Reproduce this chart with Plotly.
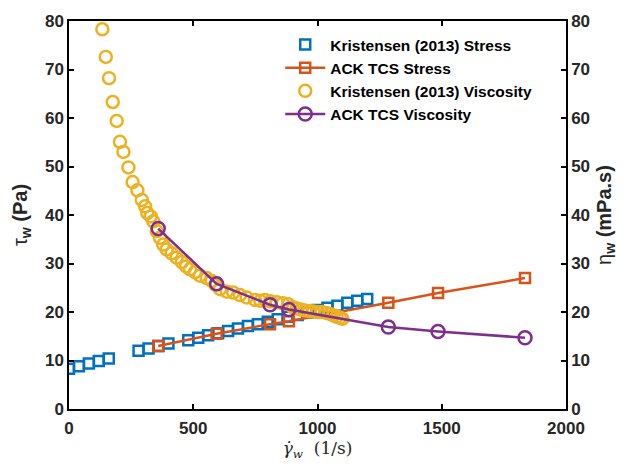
import plotly.graph_objects as go

# Wall shear stress, Kristensen (2013)
kr_stress_x = [0, 40, 80, 120, 160, 280, 320, 360, 400, 480, 520, 560, 600, 640, 680,
               720, 760, 800, 840, 880, 920, 960, 1000, 1040, 1080, 1120, 1160, 1200]
kr_stress_y = [8.3, 8.8, 9.4, 9.9, 10.4, 12.0, 12.5, 13.0, 13.5, 14.2, 14.7, 15.2, 15.6,
               16.1, 16.6, 17.1, 17.5, 18.0, 18.5, 19.0, 19.4, 19.9, 20.4, 20.9, 21.3,
               21.9, 22.3, 22.7]

# ACK TCS model results
ack_x = [359, 594, 809, 885, 1285, 1485, 1835]
ack_stress = [13.0, 15.5, 17.5, 18.1, 21.9, 23.9, 27.0]
ack_visc = [37.2, 25.8, 21.5, 20.5, 16.9, 16.0, 14.7]

# Wall viscosity, Kristensen (2013)
kr_visc_x = [134, 148, 161, 176, 192, 205, 219, 239, 256, 275, 293, 306, 315, 329, 339,
             353, 366, 379, 393, 413, 433, 454, 471, 487, 507, 527, 554, 574, 590, 608,
             635, 661, 688, 715, 748, 770, 789, 810, 836, 860, 882, 900, 916, 933, 950,
             967, 983, 1000, 1017, 1035, 1050, 1065, 1077, 1090, 1100]
kr_visc_y = [78.3, 72.6, 68.2, 63.3, 59.4, 55.1, 53.0, 49.8, 46.8, 45.1, 43.1, 41.8, 40.4,
             39.7, 38.7, 36.7, 35.3, 33.9, 32.9, 32.1, 31.2, 30.3, 29.4, 28.8, 28.2, 27.5,
             27.0, 26.4, 25.6, 24.7, 24.2, 24.0, 23.5, 23.0, 22.5, 22.3, 22.5, 22.2, 22.0,
             21.8, 21.6, 21.0, 20.7, 20.5, 20.3, 20.2, 20.1, 20.0, 20.0, 19.8, 19.6, 19.3,
             19.0, 18.8, 18.6]

BLUE = "#0072BD"
ORANGE = "#D95319"
YELLOW = "#EDB120"
PURPLE = "#7E2F8E"
FONT = "Liberation Sans, Arial, sans-serif"
INK = "#262626"

fig = go.Figure()
fig.add_trace(go.Scatter(
    x=kr_stress_x, y=kr_stress_y, mode="markers", name="Kristensen (2013) Stress",
    marker=dict(symbol="square-open", size=10, color=BLUE, line=dict(width=2.5, color=BLUE)),
))
fig.add_trace(go.Scatter(
    x=ack_x, y=ack_stress, mode="lines+markers", name="ACK TCS Stress",
    line=dict(color=ORANGE, width=2.5),
    marker=dict(symbol="square-open", size=10, color=ORANGE, line=dict(width=2.5, color=ORANGE)),
))
fig.add_trace(go.Scatter(
    x=kr_visc_x, y=kr_visc_y, mode="markers", name="Kristensen (2013) Viscosity", yaxis="y2",
    marker=dict(symbol="circle-open", size=12, color=YELLOW, line=dict(width=2.5, color=YELLOW)),
))
fig.add_trace(go.Scatter(
    x=ack_x, y=ack_visc, mode="lines+markers", name="ACK TCS Viscosity", yaxis="y2",
    line=dict(color=PURPLE, width=2.5),
    marker=dict(symbol="circle-open", size=13, color=PURPLE, line=dict(width=2.5, color=PURPLE)),
))

axis_common = dict(
    showgrid=False, zeroline=False, showline=True, linecolor="black", linewidth=1.5,
    ticks="inside", ticklen=5, tickwidth=1.5, tickcolor="black",
    tickfont=dict(family=FONT, size=17, color=INK, weight="bold"),
)

fig.update_layout(
    width=627, height=465,
    margin=dict(l=69, r=61, t=20, b=54),
    paper_bgcolor="white", plot_bgcolor="white",
    showlegend=True,
    legend=dict(
        x=0.425, y=0.982, xanchor="left", yanchor="top",
        bgcolor="rgba(0,0,0,0)", itemwidth=40, tracegroupgap=0,
        font=dict(family=FONT, size=15.5, color="black", weight="bold"),
    ),
    xaxis=dict(
        range=[0, 2000], dtick=500, mirror="ticks", ticklabelstandoff=3,
        title=dict(text="<i>γ̇</i><sub><i>w</i></sub>  (1/s)", standoff=3,
                   font=dict(family="DejaVu Serif, serif", size=17, color=INK)),
        **axis_common,
    ),
    yaxis=dict(
        range=[0, 80], dtick=10,
        title=dict(text="τ<sub><b>w</b></sub><b> (Pa)</b>", standoff=12,
                   font=dict(family=FONT, size=20, color=INK)),
        **axis_common,
    ),
    yaxis2=dict(
        range=[0, 80], dtick=10, overlaying="y", side="right",
        title=dict(text="η<sub><b>w</b></sub><b> (mPa.s)</b>", standoff=8,
                   font=dict(family=FONT, size=20, color=INK)),
        **axis_common,
    ),
)

fig.write_html("out.html")
